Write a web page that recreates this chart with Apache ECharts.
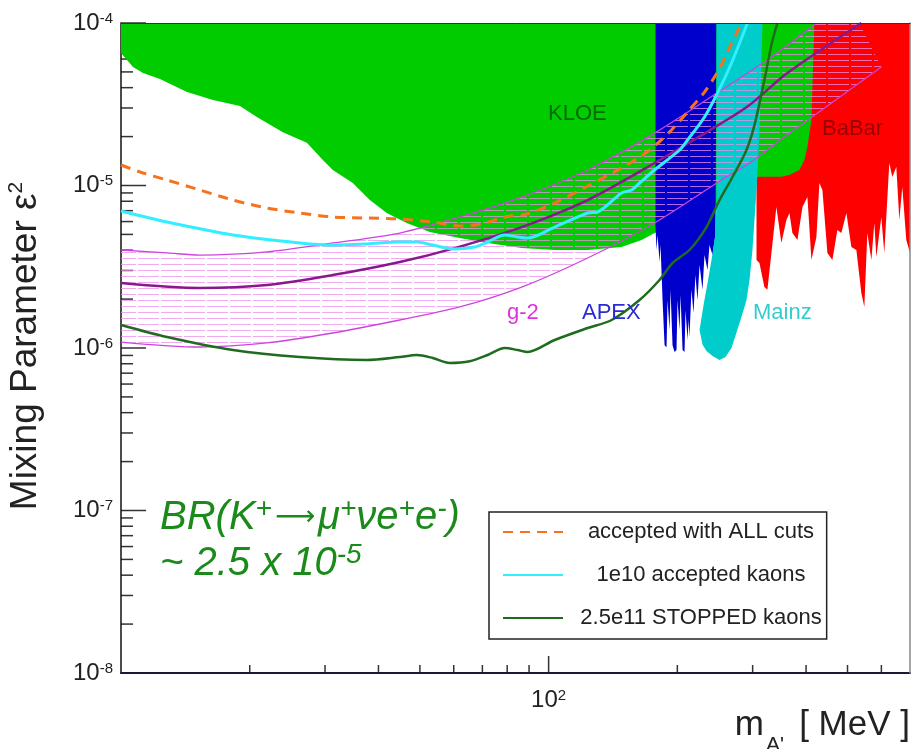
<!DOCTYPE html>
<html><head><meta charset="utf-8">
<script src="https://cdn.jsdelivr.net/npm/echarts@6/dist/echarts.min.js"></script>
<style>html,body{margin:0;padding:0;background:#fff}#c{width:915px;height:749px}</style>
</head><body><div id="c"></div>
<script>
const FONT = "'Liberation Sans', Arial, Helvetica, sans-serif";
const X_MIN = 10, X_MAX = 700, Y_MIN = 1e-8, Y_MAX = 1e-4;

// ---- tick values ----
const xMajorTicks = [100];
const xMinorTicks = [20,30,40,50,60,70,80,90,200,300,400,500,600];
const yMajorTicks = [1e-8,1e-7,1e-6,1e-5,1e-4];
const yMinorTicks = [2e-8,3e-8,4e-8,5e-8,6e-8,7e-8,8e-8,9e-8,
  2e-7,3e-7,4e-7,5e-7,6e-7,7e-7,8e-7,9e-7,
  2e-6,3e-6,4e-6,5e-6,6e-6,7e-6,8e-6,9e-6,
  2e-5,3e-5,4e-5,5e-5,6e-5,7e-5,8e-5,9e-5];

// ---- excluded regions [mass MeV, eps^2] ----
const kloeRegion = [[10,1e-4],[10,6.54e-5],[10.33,5.92e-5],[10.67,5.36e-5],[11.26,4.92e-5],[12.33,4.52e-5],
  [14.27,3.76e-5],[16.41,3.36e-5],[18.97,3.08e-5],[20.78,2.64e-5],[23.91,2.13e-5],[27.2,1.83e-5],
  [29.65,1.435e-5],[31.28,1.246e-5],[34.84,1.036e-5],[38.18,8.14e-6],[41.83,6.77e-6],[46.58,5.88e-6],
  [52.72,5.17e-6],[61.96,4.75e-6],[72.03,4.43e-6],[86.49,4.12e-6],[103.3,4.01e-6],[123.4,4.01e-6],
  [148.1,4.18e-6],[165,4.62e-6],[176.9,5.1e-6],[202.4,5.71e-6],[225.4,6.58e-6],[279.4,9.38e-6],
  [307.8,1.13e-5],[350,1.13e-5],[365.7,1.16e-5],[385.9,1.246e-5],[396.4,1.435e-5],[402.9,1.725e-5],
  [411.7,2.53e-5],[413.9,4.04e-5],[418.3,1e-4]];

const apexRegion = [[177.8,1e-4],[177.8,5.55e-6],[178.8,4.01e-6],[179.8,4.96e-6],[181.7,3.38e-6],[182.7,4.3e-6],
  [184.7,1.97e-6],[186.7,1.04e-6],[188.7,1.01e-6],[189.7,1.97e-6],[191.8,1.29e-6],[192.8,2.28e-6],
  [194.9,1.04e-6],[197.0,9.45e-7],[199.1,9.72e-7],[200.2,1.97e-6],[202.4,1.29e-6],[203.5,2.12e-6],
  [205.7,9.72e-7],[207.9,9.45e-7],[209.0,1.71e-6],[211.3,1.12e-6],[212.4,1.49e-6],[213.5,1.17e-6],
  [215.8,2.28e-6],[218.2,1.64e-6],[220.5,2.81e-6],[222.9,1.97e-6],[225.4,3.24e-6],[229.0,2.28e-6],
  [231.5,3.73e-6],[235.3,3.02e-6],[237.8,4.3e-6],[241.7,3.73e-6],[245.6,4.96e-6],[246.9,1e-4]];

const mainzRegion = [[246.9,1e-4],[246.9,8.14e-6],[245.6,5.1e-6],[240.4,3.48e-6],[235.3,2.51e-6],[230.3,1.84e-6],
  [225.4,1.29e-6],[229.0,1.05e-6],[234.0,9.6e-7],[241.7,8.93e-7],[251.0,8.44e-7],[259.2,8.8e-7],
  [267.7,1.0e-6],[274.9,1.24e-6],[282.4,1.55e-6],[290.2,1.97e-6],[295.0,2.62e-6],[299.7,4.01e-6],
  [303.0,6.13e-6],[306.3,9.38e-6],[309.6,1.585e-5],[312.9,3.36e-5],[316.3,1e-4]];

const babarRegion = [[306.3,1e-4],[306.3,3.48e-6],[311.2,3.33e-6],[319.6,2.37e-6],[324.8,2.28e-6],[331.9,3.84e-6],
  [340.9,7.37e-6],[350.2,4.43e-6],[359.8,6.13e-6],[365.7,6.77e-6],[371.6,5.1e-6],[381.8,4.62e-6],
  [392.3,7.37e-6],[402.9,8.49e-6],[411.7,3.48e-6],[422.9,4.82e-6],[429.8,1.036e-5],[436.8,9.38e-6],
  [448.7,3.84e-6],[460.9,3.48e-6],[473.4,5.32e-6],[483.7,5.1e-6],[497.0,6.77e-6],[510.5,4.18e-6],
  [524.4,4.01e-6],[538.7,2.18e-6],[547.4,1.79e-6],[556.3,5.1e-6],[568.5,3.48e-6],[577.7,5.88e-6],
  [584.0,3.63e-6],[599.8,6.4e-6],[609.5,3.84e-6],[626.2,1.375e-5],[636.4,1.128e-5],[650.3,1.3e-5],
  [660.9,6.13e-6],[671.6,9.79e-6],[686.2,4.62e-6],[700,3.84e-6],[700,1e-4]];

// ---- g-2 band ----
const g2Upper = [[10,4.01e-6],[12.81,3.85e-6],[15.3,3.73e-6],[21.93,3.9e-6],[31.28,4.43e-6],[44.87,5.1e-6],
  [61.96,6.4e-6],[86.49,8.49e-6],[123.4,1.246e-5],[176.9,2.1e-5],[253.7,3.87e-5],[331.9,6.18e-5],[422.9,1e-4]];
const g2Central = [[10,2.51e-6],[15.3,2.34e-6],[21.93,2.44e-6],[31.28,2.81e-6],[44.87,3.38e-6],[60.3,4.12e-6],
  [86.49,5.55e-6],[123.4,8.14e-6],[176.9,1.375e-5],[253.7,2.42e-5],[295,3.13e-5],[361.7,4.92e-5],[538.7,1e-4]];
const g2Lower = [[10,1.088e-6],[15.3,1.014e-6],[21.93,1.074e-6],[31.28,1.237e-6],[44.87,1.487e-6],[61.96,1.788e-6],
  [86.49,2.37e-6],[123.4,3.58e-6],[176.9,5.88e-6],[253.7,1.081e-5],[295,1.375e-5],[361.7,2.05e-5],[599.8,5.36e-5]];
const g2BandEnd = [[533.0,1e-4]];

// ---- sensitivity curves ----
const allCuts = [[10,1.337e-5],[11.08,1.211e-5],[12.81,1.081e-5],[15.3,9.38e-6],[18.27,8.14e-6],[21.93,7.27e-6],
  [26.19,6.77e-6],[31.28,6.4e-6],[37.57,6.31e-6],[44.87,6.22e-6],[53.58,5.96e-6],[61.96,5.63e-6],
  [69.74,5.8e-6],[78.93,6.4e-6],[88.84,6.68e-6],[103.3,7.8e-6],[123.4,9.93e-6],[148.1,1.281e-5],
  [172.2,1.654e-5],[193.8,2.196e-5],[211.3,2.834e-5],[231.5,3.76e-5],[248.3,4.99e-5],[261.9,6.63e-5],[282.4,1e-4]];
const accepted1e10 = [[10,6.97e-6],[12.81,5.96e-6],[18.27,4.96e-6],[26.19,4.43e-6],[31.28,4.3e-6],[37.57,4.37e-6],
  [44.87,4.49e-6],[49.15,4.49e-6],[53.58,4.3e-6],[59.66,4.07e-6],[67.16,4.18e-6],[72.03,4.49e-6],
  [78.93,4.96e-6],[84.63,4.82e-6],[89.3,4.75e-6],[103.3,5.55e-6],[123.4,6.77e-6],[130.2,6.87e-6],
  [148.1,8.99e-6],[156.3,9.38e-6],[163.2,1.036e-5],[176.9,1.246e-5],[202.4,1.654e-5],[211.3,1.905e-5],
  [231.5,2.64e-5],[248.3,3.71e-5],[267.7,5.67e-5],[291.7,1e-4]];
const stopped25e11 = [[10,1.385e-6],[12.81,1.168e-6],[18.27,9.72e-7],[26.19,8.8e-7],[37.57,8.44e-7],[44.87,8.8e-7],
  [49.15,9.06e-7],[53.58,8.68e-7],[58.71,8.09e-7],[65.37,8.29e-7],[72.03,9.06e-7],[78.93,1.0e-6],
  [84.63,9.72e-7],[89.3,9.45e-7],[103.3,1.12e-6],[123.4,1.327e-6],[140.4,1.487e-6],[163.2,1.974e-6],
  [181.7,2.62e-6],[194.9,3.33e-6],[213.5,4.01e-6],[234.0,5.55e-6],[251.0,8.14e-6],[269.2,1.128e-5],
  [290.2,1.654e-5],[303.0,2.36e-5],[319.6,4.46e-5],[331.9,7.32e-5],[342.8,1e-4]];

const legendNames = ['accepted with ALL cuts', '1e10 accepted kaons', '2.5e11 STOPPED kaons'];

// ---------------------------------------------------------------
const TOP = 1; // zlevel for everything drawn above the axis ticks

function hatchPattern() {
  const c = document.createElement('canvas');
  c.width = 23; c.height = 6;
  const g = c.getContext('2d');
  g.fillStyle = 'rgba(236,140,236,0.75)';
  g.fillRect(0, 0, 21, 1);
  return { image: c, repeat: 'repeat' };
}

function regionSeries(name, pts, fill, z) {
  return {
    type: 'custom', name: name, coordinateSystem: 'cartesian2d', silent: true, z: z, zlevel: TOP,
    data: pts, encode: { x: 0, y: 1 },
    renderItem: function (params, api) {
      if (params.dataIndex !== 0) return null;
      return { type: 'polygon', shape: { points: pts.map(p => api.coord(p)) }, style: { fill: fill } };
    }
  };
}

function tickSeries(values, isX, len) {
  const data = values.map(v => isX ? [v, Y_MIN] : [X_MIN, v]);
  return {
    type: 'custom', coordinateSystem: 'cartesian2d', silent: true, z: 0, zlevel: 0,
    data: data, encode: { x: 0, y: 1 },
    renderItem: function (params, api) {
      const p = api.coord([api.value(0), api.value(1)]);
      const shape = isX ? { x1: p[0], y1: p[1], x2: p[0], y2: p[1] - len }
                        : { x1: p[0], y1: p[1], x2: p[0] + len, y2: p[1] };
      return { type: 'line', shape: shape, style: { stroke: '#333', lineWidth: 1.5 } };
    }
  };
}

function lineSeries(name, data, color, width, type, z) {
  return {
    type: 'line', name: name, data: data, showSymbol: false, symbol: 'none', smooth: 0.3,
    silent: true, z: z, zlevel: TOP, lineStyle: { color: color, width: width, type: type }, itemStyle: { color: color }
  };
}

function powLabel(skipFirst) {
  return function (v) {
    const e = Math.log10(v), r = Math.round(e);
    if (Math.abs(e - r) > 1e-6) return '';
    if (skipFirst && r === 1) return '';
    return '{b|10}{s|' + r + '}';
  };
}
const labelRich = {
  b: { fontSize: 24, lineHeight: 24, fontFamily: FONT, color: '#222' },
  s: { fontSize: 15, lineHeight: 14, verticalAlign: 'top', fontFamily: FONT, color: '#222' }
};

const GREEN_TXT = '#1a8a1a';
const brRich = {
  a: { fontSize: 40, lineHeight: 44, fontStyle: 'italic', fontFamily: FONT, fill: GREEN_TXT },
  s: { fontSize: 28, lineHeight: 24, verticalAlign: 'top', fontStyle: 'italic', fontFamily: FONT, fill: GREEN_TXT },
  r: { fontSize: 28, lineHeight: 44, fontFamily: "'DejaVu Sans', sans-serif", fill: GREEN_TXT, padding: [0, 3, 0, 3] }
};

function txt(x, y, text, size, color, extra) {
  return Object.assign({ type: 'text', x: x, y: y, z: 100, zlevel: TOP,
    style: Object.assign({ text: text, fontSize: size, fontFamily: FONT, fill: color, verticalAlign: 'middle' }, extra || {}) });
}

const band = g2Upper.concat(g2BandEnd, [g2Lower[g2Lower.length - 1]], g2Lower.slice(0, -1).reverse());

const chart = echarts.init(document.getElementById('c'), null, { renderer: 'canvas' });
chart.setOption({
  animation: false,
  backgroundColor: '#fff',
  grid: { left: 121, top: 23, width: 789, height: 650, show: false },
  xAxis: [{
    type: 'log', logBase: 10, min: X_MIN, max: X_MAX,
    axisLine: { show: true, lineStyle: { color: '#1a1a33', width: 2 } },
    axisTick: { show: false }, splitLine: { show: false }, minorTick: { show: false },
    axisLabel: { margin: 15, formatter: powLabel(true), rich: labelRich }
  }, {
    type: 'log', logBase: 10, min: X_MIN, max: X_MAX, position: 'top', z: 50, zlevel: TOP,
    axisLine: { show: true, lineStyle: { color: '#333', width: 1 } },
    axisTick: { show: false }, axisLabel: { show: false }, splitLine: { show: false }
  }],
  yAxis: [{
    type: 'log', logBase: 10, min: Y_MIN, max: Y_MAX,
    axisLine: { show: true, lineStyle: { color: '#111', width: 1.5 } },
    axisTick: { show: false }, splitLine: { show: false }, minorTick: { show: false },
    axisLabel: { margin: 8, formatter: powLabel(false), rich: labelRich }
  }, {
    type: 'log', logBase: 10, min: Y_MIN, max: Y_MAX, position: 'right', z: 50, zlevel: TOP,
    axisLine: { show: true, lineStyle: { color: '#888', width: 1.5 } },
    axisTick: { show: false }, axisLabel: { show: false }, splitLine: { show: false }
  }],
  legend: {
    orient: 'vertical', left: 489, top: 512, padding: [9, 5, 10, 13], itemGap: 21,
    itemWidth: 60, itemHeight: 20, borderColor: '#222', borderWidth: 1.5, backgroundColor: '#fff',
    selectedMode: false, data: legendNames, z: 20, zlevel: TOP,
    itemStyle: { opacity: 0 },
    formatter: function (n) { return '{t|' + n + '}'; },
    textStyle: { fontSize: 22, fontFamily: FONT, color: '#222',
      rich: { t: { width: 236, align: 'center', padding: [0, 0, 0, 15], fontSize: 22, lineHeight: 20, fontFamily: FONT, color: '#222' } } }
  },
  graphic: [
    txt(548, 113.5, 'KLOE', 22, '#006a00'),
    txt(822, 128.5, 'BaBar', 22, '#990000'),
    txt(507, 312.5, 'g-2', 22, '#dd33dd'),
    txt(582, 312.5, 'APEX', 22, '#2b2bd6'),
    txt(753, 312.5, 'Mainz', 22, '#33cccc'),
    txt(160, 495.5, '{a|BR(K}{s|+}{r|⟶}{a|μ}{s|+}{a|νe}{s|+}{a|e}{s|-}{a|)}', 40, GREEN_TXT, { verticalAlign: 'top', rich: brRich }),
    txt(160, 541.5, '{a|~ 2.5 x 10}{s|-5}', 40, GREEN_TXT, { verticalAlign: 'top', rich: brRich }),
    Object.assign(txt(26, 346, '{a|Mixing Parameter ε}{s|2}', 37, '#222', {
      align: 'center',
      rich: { a: { fontSize: 37, lineHeight: 40, fontFamily: FONT, fill: '#222' },
              s: { fontSize: 21, lineHeight: 28, verticalAlign: 'top', fontFamily: FONT, fill: '#222' } } }), { rotation: Math.PI / 2 }),
    txt(910, 725.5, '[ MeV ]', 35, '#222', { align: 'right' }),
    txt(784, 745, "A'", 21, '#222', { align: 'right' }),
    txt(764, 725.5, 'm', 35, '#222', { align: 'right' })
  ],
  series: [
    tickSeries(xMinorTicks, true, 8),
    tickSeries(xMajorTicks, true, 17),
    tickSeries(yMinorTicks, false, 12),
    tickSeries(yMajorTicks, false, 25),
    regionSeries('BaBar', babarRegion, '#ff0000', 2),
    regionSeries('KLOE', kloeRegion, '#00cc00', 2),
    regionSeries('APEX', apexRegion, '#0000cc', 2),
    regionSeries('Mainz', mainzRegion, '#00cccc', 2),
    regionSeries('g-2 band', band, hatchPattern(), 3),
    lineSeries('g-2 upper', g2Upper, '#cc44dd', 1.3, 'solid', 3),
    lineSeries('g-2 lower', g2Lower, '#cc44dd', 1.3, 'solid', 3),
    lineSeries('g-2 central', g2Central, '#861a8a', 2.5, 'solid', 3),
    lineSeries(legendNames[0], allCuts, '#f5731f', 3, [10, 7], 4),
    lineSeries(legendNames[1], accepted1e10, '#33eeff', 3, 'solid', 4),
    lineSeries(legendNames[2], stopped25e11, '#1f6b1f', 2.5, 'solid', 4)
  ]
});
</script>
</body></html>
